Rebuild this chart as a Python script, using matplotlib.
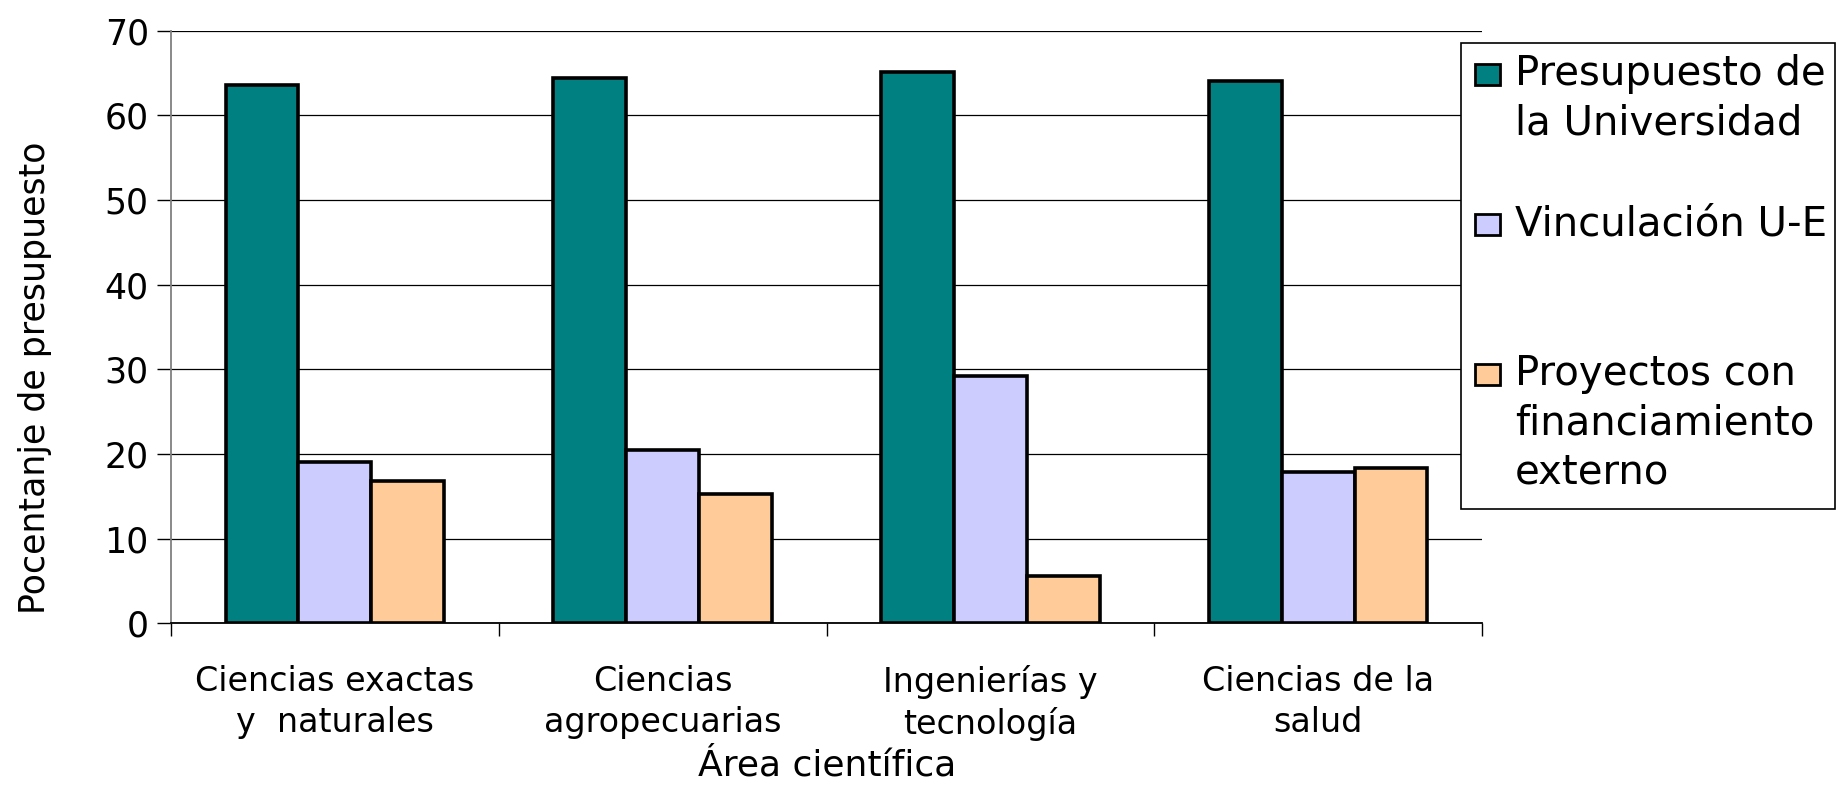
import matplotlib
matplotlib.use("Agg")
import matplotlib.pyplot as plt
from matplotlib.patches import Rectangle
import numpy as np

plt.rcParams['font.family'] = ['DejaVu Sans']

# Data
categories = ["Ciencias exactas\ny  naturales", "Ciencias\nagropecuarias",
              "Ingenierías y\ntecnología", "Ciencias de la\nsalud"]
series_names = ["Presupuesto de la Universidad", "Vinculación U-E",
                "Proyectos con financiamiento externo"]
presupuesto_universidad = [63.6, 64.4, 65.1, 64.0]
vinculacion_ue = [19.1, 20.5, 29.2, 17.9]
proyectos_externos = [16.8, 15.3, 5.6, 18.3]
y_ticks = [0, 10, 20, 30, 40, 50, 60, 70]

colors = ["#008080", "#CCCCFF", "#FFCC99"]
series = [presupuesto_universidad, vinculacion_ue, proyectos_externos]

W, H = 1837, 785
fig = plt.figure(figsize=(W / 100, H / 100), dpi=100)
ax = fig.add_axes([171 / W, 1 - 623.3 / H, (1482 - 171) / W, (623.3 - 30.7) / H])

x = np.arange(len(categories))
bar_w = 1 / 4.5
for i, (vals, col, name) in enumerate(zip(series, colors, series_names)):
    ax.bar(x + (i - 1) * bar_w, vals, width=bar_w, color=col,
           edgecolor="black", linewidth=2.6, label=name, zorder=3)

ax.set_xlim(-0.5, len(categories) - 0.5)
ax.set_ylim(0, 70)
ax.set_yticks(y_ticks)
ax.set_yticklabels([str(t) for t in y_ticks], fontsize=25)
ax.yaxis.grid(True, color="black", linewidth=0.9, zorder=0)
ax.set_axisbelow(True)

ax.set_xticks(x)
ax.set_xticklabels(categories, fontsize=24, linespacing=1.3)
ax.set_xticks(np.arange(len(categories) + 1) - 0.5, minor=True)
ax.tick_params(axis="x", which="major", length=0, pad=30)
ax.tick_params(axis="x", which="minor", length=9, width=1, color="black")
ax.tick_params(axis="y", length=10, width=1, color="black", pad=6)

for s in ("top", "right"):
    ax.spines[s].set_visible(False)
ax.spines["left"].set_color("#808080")
ax.spines["left"].set_linewidth(1.3)
ax.spines["bottom"].set_color("black")
ax.spines["bottom"].set_linewidth(1.3)

def fx(px):
    return px / W

def fy(py):
    return 1 - py / H

fig.text(fx(35), fy(378), "Pocentanje de presupuesto", rotation=90,
         ha="center", va="center", fontsize=25)
fig.text(fx(827), fy(766), "Área científica", ha="center", va="center",
         fontsize=26)

# Legend box
fig.patches.append(Rectangle((fx(1461), fy(509)), fx(1835) - fx(1461),
                             fy(43) - fy(509), transform=fig.transFigure,
                             facecolor="white", edgecolor="black",
                             linewidth=1.2, zorder=5))
legend_lines = [
    ["Presupuesto de", "la Universidad"],
    ["Vinculación U-E"],
    ["Proyectos con", "financiamiento", "externo"],
]
first_baselines = [85, 235, 385]
line_step = 49.5
for col, lines, base in zip(colors, legend_lines, first_baselines):
    fig.patches.append(Rectangle((fx(1475), fy(base - 0.5)), fx(25), fy(0) - fy(21),
                                 transform=fig.transFigure, facecolor=col,
                                 edgecolor="black", linewidth=2, zorder=6))
    for k, line in enumerate(lines):
        fig.text(fx(1515), fy(base + k * line_step), line, ha="left",
                 va="baseline", fontsize=29, zorder=7)

fig.savefig("out.png", dpi=100)
